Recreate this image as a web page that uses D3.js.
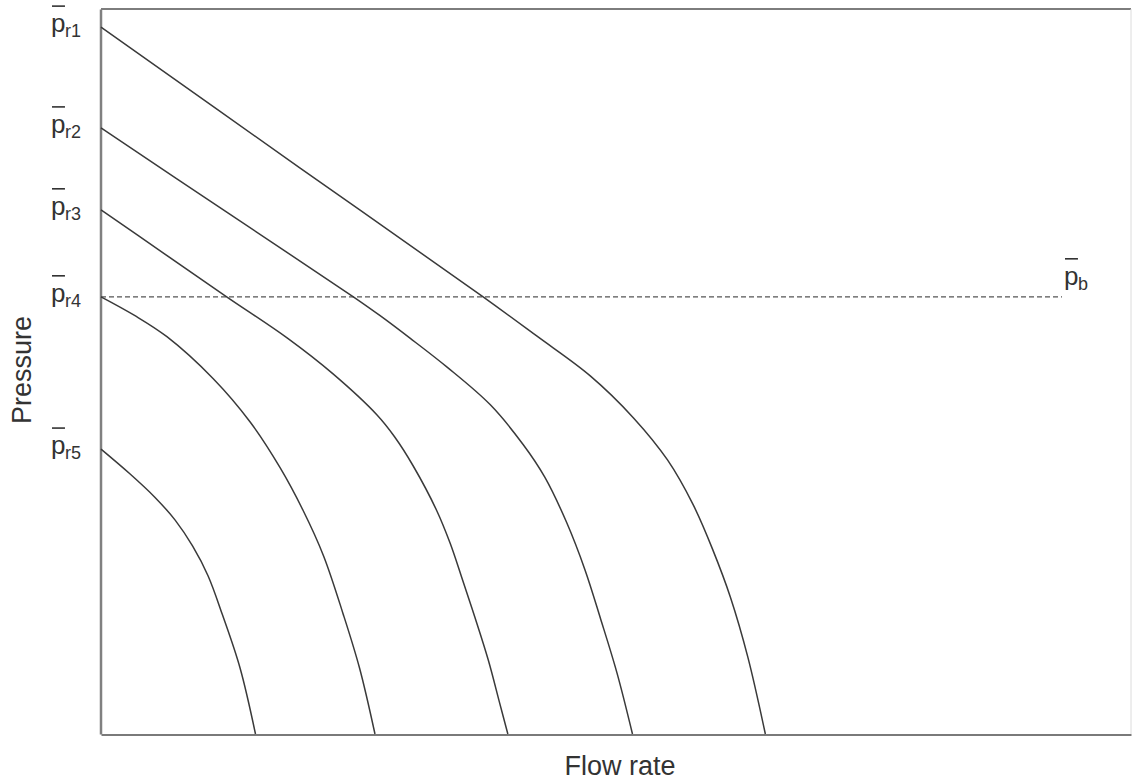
<!DOCTYPE html>
<html>
<head>
<meta charset="utf-8">
<script src="https://cdn.jsdelivr.net/npm/d3@7"></script>
<style>
  html, body { margin: 0; padding: 0; background: #fff; }
  svg { display: block; }
  text { font-family: "Liberation Sans", Arial, Helvetica, sans-serif; fill: #333; }
</style>
</head>
<body>
<svg id="chart" width="1135" height="780"></svg>
<script>
// Inflow performance curves: [flow rate, pressure] for each average reservoir pressure
const curvePr1 = [[0, 97.5], [19.3, 78.1], [37.1, 60.3], [42.3, 54.9], [47.5, 49.4], [51.7, 43.6], [55.0, 37.8], [57.5, 31.6], [59.4, 25.4], [61.1, 18.9], [62.8, 10.6], [64.5, 0]];
const curvePr2 = [[0, 83.6], [12.5, 71.7], [24.5, 60.3], [27.1, 57.7], [30.0, 54.6], [33.6, 50.6], [37.8, 45.4], [41.0, 39.9], [43.1, 35.4], [45.2, 29.2], [47.0, 22.6], [48.5, 15.9], [50.1, 8.4], [51.6, 0]];
const curvePr3 = [[0, 72.3], [6.2, 66.2], [12.2, 60.3], [18.1, 54.6], [22.5, 49.7], [26.8, 44.0], [28.5, 41.0], [30.3, 37.0], [32.6, 30.8], [33.9, 26.3], [35.0, 21.7], [36.3, 16.1], [37.6, 10.2], [38.7, 4.3], [39.5, 0]];
const curvePr4 = [[0, 60.3], [3.3, 57.7], [6.4, 54.8], [10.9, 49.0], [14.5, 43.0], [17.4, 36.7], [19.6, 30.9], [21.6, 24.6], [23.5, 16.6], [25.1, 9.1], [26.6, 0]];
const curvePr5 = [[0, 39.3], [2.8, 35.9], [5.2, 32.7], [7.2, 29.5], [8.9, 25.9], [10.4, 21.8], [11.8, 16.4], [13.5, 9.1], [15.0, 0]];

const curveSubscripts = ["r1", "r2", "r3", "r4", "r5"];

// Bubble-point pressure line
const bubblePointPressure = 60.3;
const bubbleLineFlow = [0, 93.3];
const bubbleSubscript = "b";

const xTitle = "Flow rate";
const yTitle = "Pressure";

const curves = [curvePr1, curvePr2, curvePr3, curvePr4, curvePr5];

const svg = d3.select("#chart");
const plotLeft = 101, plotRight = 1131, plotTop = 9, plotBottom = 734;

const x = d3.scaleLinear().domain([0, 100]).range([plotLeft, plotRight]);
const y = d3.scaleLinear().domain([0, 100]).range([plotBottom, plotTop]);

// Frame: top and right edges are lighter than the two axes
svg.append("line")
  .attr("x1", plotLeft).attr("x2", plotRight).attr("y1", plotTop).attr("y2", plotTop)
  .attr("stroke", "#7d7d7d").attr("stroke-width", 2);
svg.append("line")
  .attr("x1", plotRight).attr("x2", plotRight).attr("y1", plotTop).attr("y2", plotBottom)
  .attr("stroke", "#dcdcdc").attr("stroke-width", 1);

svg.append("g")
  .attr("transform", `translate(${plotLeft - 0.5},0)`)
  .call(d3.axisLeft(y).tickValues([]).tickSizeOuter(0))
  .call(g => g.select(".domain").attr("stroke", "#808080").attr("stroke-width", 2.5));
svg.append("g")
  .attr("transform", `translate(0,${plotBottom + 0.5})`)
  .call(d3.axisBottom(x).tickValues([]).tickSizeOuter(0))
  .call(g => g.select(".domain").attr("stroke", "#7a7a7a").attr("stroke-width", 2));

// Bubble-point dashed line
svg.append("line")
  .attr("x1", x(bubbleLineFlow[0])).attr("x2", x(bubbleLineFlow[1]))
  .attr("y1", y(bubblePointPressure)).attr("y2", y(bubblePointPressure))
  .attr("stroke", "#555").attr("stroke-width", 1.4)
  .attr("stroke-dasharray", "5,3");

// IPR curves
const line = d3.line()
  .x(d => x(d[0]))
  .y(d => y(d[1]))
  .curve(d3.curveCatmullRom.alpha(0.5));

svg.append("g")
  .selectAll("path")
  .data(curves)
  .join("path")
  .attr("d", line)
  .attr("fill", "none")
  .attr("stroke", "#3a3a3a")
  .attr("stroke-width", 1.5);

// p-bar label with subscript
function pBarLabel(px, baseline, sub) {
  const g = svg.append("g");
  const p = g.append("text")
    .attr("x", px).attr("y", baseline)
    .attr("font-size", 26)
    .text("p");
  const w = p.node().getComputedTextLength();
  g.append("line")
    .attr("x1", px + 1).attr("x2", px + w - 0.5)
    .attr("y1", baseline - 26).attr("y2", baseline - 26)
    .attr("stroke", "#333").attr("stroke-width", 1.6);
  g.append("text")
    .attr("x", px + w - 0.5).attr("y", baseline + 5)
    .attr("font-size", 18)
    .text(sub);
}

curves.forEach((c, i) => {
  pBarLabel(51, y(c[0][1]) + 5, curveSubscripts[i]);
});

pBarLabel(1064, y(bubblePointPressure) - 12, bubbleSubscript);

// Axis titles
svg.append("text")
  .attr("x", (plotLeft + plotRight) / 2 + 4)
  .attr("y", 775)
  .attr("text-anchor", "middle")
  .attr("font-size", 27)
  .text(xTitle);

svg.append("text")
  .attr("transform", `translate(31,${370}) rotate(-90)`)
  .attr("text-anchor", "middle")
  .attr("font-size", 27)
  .text(yTitle);
</script>
</body>
</html>
